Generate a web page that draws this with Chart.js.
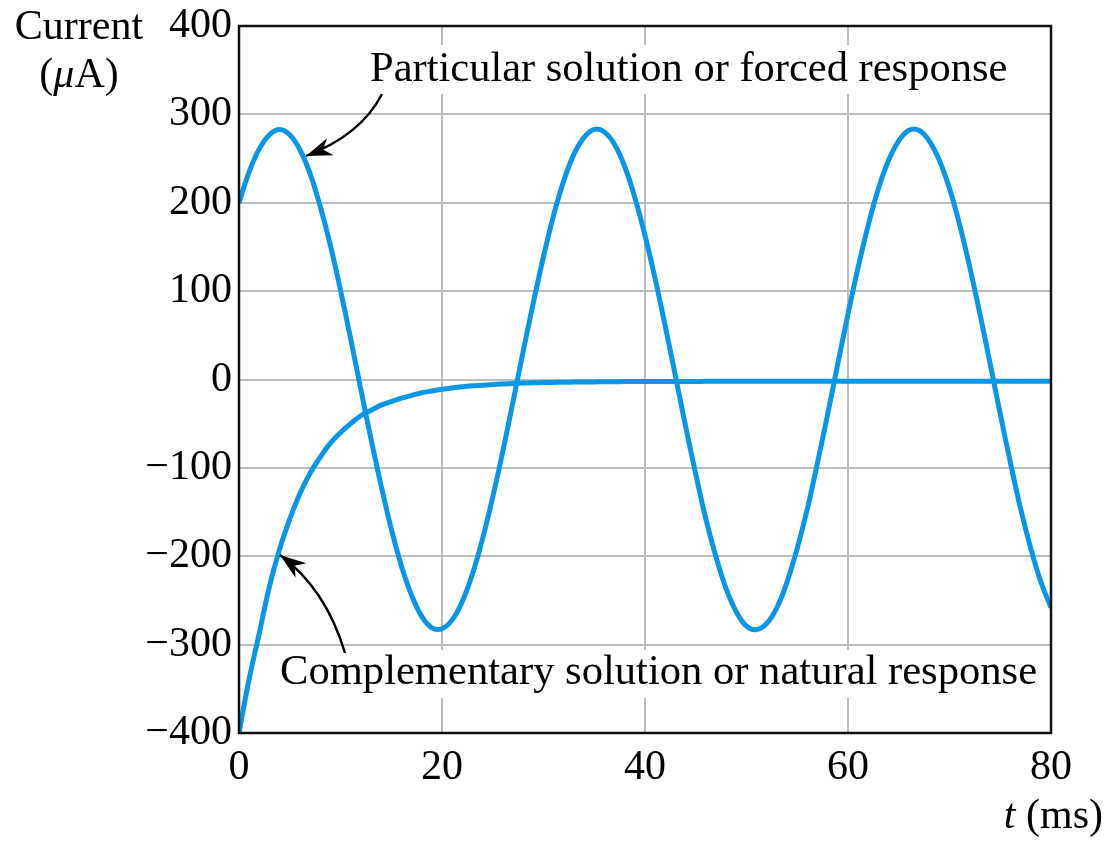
<!DOCTYPE html>
<html>
<head>
<meta charset="utf-8">
<script src="https://cdn.jsdelivr.net/npm/chart.js@4.4.1/dist/chart.umd.min.js"></script>
<style>
  body { margin: 0; background: #fff; }
  #wrap { width: 1111px; height: 842px; }
</style>
</head>
<body>
<div id="wrap"><canvas id="myChart"></canvas></div>
<script>
// time axis, ms
const timeMs = [0, 1, 2, 3, 4, 5, 6, 7, 8, 9, 10, 11, 12, 13, 14, 15, 16, 17, 18, 19,
  20, 21, 22, 23, 24, 25, 26, 27, 28, 29, 30, 31, 32, 33, 34, 35, 36, 37, 38, 39,
  40, 41, 42, 43, 44, 45, 46, 47, 48, 49, 50, 51, 52, 53, 54, 55, 56, 57, 58, 59,
  60, 61, 62, 63, 64, 65, 66, 67, 68, 69, 70, 71, 72, 73, 74, 75, 76, 77, 78, 79, 80];

// particular solution / forced response, uA
const forcedResponse = [200, 235, 261, 277, 283, 277, 260, 233, 196, 152, 101, 46, -11, -67, -120, -169, -211, -244, -268, -281,
  -282, -272, -251, -220, -180, -133, -81, -25, 32, 87, 139, 186, 225, 255, 274, 283, 280, 266, 241, 206,
  163, 114, 60, 4, -53, -107, -158, -201, -237, -263, -279, -283, -276, -258, -229, -191, -146, -94, -39, 18,
  74, 127, 175, 216, 248, 270, 282, 282, 270, 248, 216, 175, 127, 74, 18, -39, -94, -146, -191, -229, -258];

// complementary solution / natural response, uA
const naturalResponse = [-400, -339, -287, -234, -192, -158, -129, -106, -88, -72, -60, -50, -41, -35, -29, -25, -21, -18, -15, -13,
  -11, -9.5, -8.3, -7.2, -6.4, -5.6, -5, -4.5, -4.1, -3.8, -3.5, -3.3, -3.1, -2.9, -2.8, -2.7, -2.6, -2.5, -2.4, -2.4,
  -2.3, -2.2, -2.2, -2.2, -2.2, -2.2, -2.1, -2.1, -2.1, -2.1, -2.1, -2, -2, -2, -2, -2, -2, -2, -2, -2,
  -2, -2, -2, -2, -2, -2, -2, -2, -2, -2, -2, -2, -2, -2, -2, -2, -2, -2, -2, -2, -2];

const xTicks = [0, 20, 40, 60, 80];
const xTickLabels = ['0', '20', '40', '60', '80'];
const yTicks = [-400, -300, -200, -100, 0, 100, 200, 300, 400];
const yTickLabels = ['\u2212400', '\u2212300', '\u2212200', '\u2212100', '0', '100', '200', '300', '400'];

const serif = '"Liberation Serif", "Times New Roman", serif';
const lineBlue = '#0a96e6';
const gridGrey = '#bdbdbd';

function drawRich(ctx, parts, x, y, size) {
  // parts: [text, italic]; x is the left edge, y the baseline
  parts.forEach(([txt, italic]) => {
    ctx.font = (italic ? 'italic ' : '') + size + 'px ' + serif;
    ctx.fillText(txt, x, y);
    x += ctx.measureText(txt).width;
  });
}

function richWidth(ctx, parts, size) {
  let w = 0;
  parts.forEach(([txt, italic]) => {
    ctx.font = (italic ? 'italic ' : '') + size + 'px ' + serif;
    w += ctx.measureText(txt).width;
  });
  return w;
}

function arrow(ctx, x0, y0, cx, cy, x1, y1) {
  ctx.beginPath();
  ctx.moveTo(x0, y0);
  ctx.quadraticCurveTo(cx, cy, x1, y1);
  ctx.lineWidth = 2.4;
  ctx.strokeStyle = '#000';
  ctx.stroke();
  const a = Math.atan2(y1 - cy, x1 - cx);
  const len = 26, half = 9;
  ctx.beginPath();
  ctx.moveTo(x1, y1);
  ctx.lineTo(x1 - len * Math.cos(a) + half * Math.sin(a), y1 - len * Math.sin(a) - half * Math.cos(a));
  ctx.lineTo(x1 - 0.7 * len * Math.cos(a), y1 - 0.7 * len * Math.sin(a));
  ctx.lineTo(x1 - len * Math.cos(a) - half * Math.sin(a), y1 - len * Math.sin(a) + half * Math.cos(a));
  ctx.closePath();
  ctx.fillStyle = '#000';
  ctx.fill();
}

const notes = {
  id: 'notes',
  beforeDatasetsDraw(chart) {
    const ctx = chart.ctx;
    ctx.save();
    ctx.fillStyle = '#fff';
    ctx.fillRect(364, 45, 650, 49);
    ctx.fillRect(274, 650, 770, 48);
    ctx.restore();
  },
  afterDatasetsDraw(chart) {
    const ctx = chart.ctx;
    const a = chart.chartArea;
    ctx.save();
    ctx.strokeStyle = '#111';
    ctx.lineWidth = 2.5;
    ctx.strokeRect(a.left, a.top, a.right - a.left, a.bottom - a.top);

    ctx.fillStyle = '#000';
    ctx.textBaseline = 'alphabetic';
    drawRich(ctx, [['Particular solution or forced response', false]], 370, 81, 42.5);
    drawRich(ctx, [['Complementary solution or natural response', false]], 280, 684, 42.6);

    const cur = [['Current', false]];
    drawRich(ctx, cur, 79 - richWidth(ctx, cur, 42) / 2, 39, 42);
    const unit = [['(', false], ['\u03bc', true], ['A)', false]];
    drawRich(ctx, unit, 79 - richWidth(ctx, unit, 42) / 2, 87, 42);

    const tl = [['t', true], [' (ms)', false]];
    drawRich(ctx, tl, 1103 - richWidth(ctx, tl, 42), 828, 42);

    arrow(ctx, 382, 94, 361, 135, 306, 156);
    arrow(ctx, 345, 653, 326, 589, 280, 555);
    ctx.restore();
  }
};

const ctx = document.getElementById('myChart');

new Chart(ctx, {
  type: 'line',
  data: {
    datasets: [
      {
        label: 'Particular solution or forced response',
        data: timeMs.map((t, i) => ({ x: t, y: forcedResponse[i] })),
        borderColor: lineBlue,
        borderWidth: 5,
        pointRadius: 0,
        tension: 0.4,
        fill: false
      },
      {
        label: 'Complementary solution or natural response',
        data: timeMs.map((t, i) => ({ x: t, y: naturalResponse[i] })),
        borderColor: lineBlue,
        borderWidth: 5,
        pointRadius: 0,
        tension: 0.4,
        fill: false
      }
    ]
  },
  options: {
    responsive: true,
    maintainAspectRatio: false,
    animation: false,
    layout: { padding: { top: 26, right: 60, bottom: 0, left: 0 } },
    plugins: {
      legend: { display: false },
      tooltip: { enabled: false }
    },
    scales: {
      x: {
        type: 'linear',
        min: 0,
        max: 80,
        afterBuildTicks: s => { s.ticks = xTicks.map(v => ({ value: v })); },
        afterFit: s => { s.height = 109; },
        ticks: {
          padding: 10,
          color: '#000',
          maxRotation: 0,
          font: { family: serif, size: 42 },
          callback: v => xTickLabels[xTicks.indexOf(v)]
        },
        grid: { color: gridGrey, lineWidth: 2, drawTicks: false },
        border: { display: false }
      },
      y: {
        min: -400,
        max: 400,
        afterBuildTicks: s => { s.ticks = yTicks.map(v => ({ value: v })); },
        afterFit: s => { s.width = 239; s.paddingTop = 0; },
        ticks: {
          padding: 7,
          color: '#000',
          font: { family: serif, size: 42, lineHeight: 1 },
          callback: v => yTickLabels[yTicks.indexOf(v)]
        },
        grid: { color: gridGrey, lineWidth: 2, drawTicks: false },
        border: { display: false }
      }
    }
  },
  plugins: [notes]
});
</script>
</body>
</html>
